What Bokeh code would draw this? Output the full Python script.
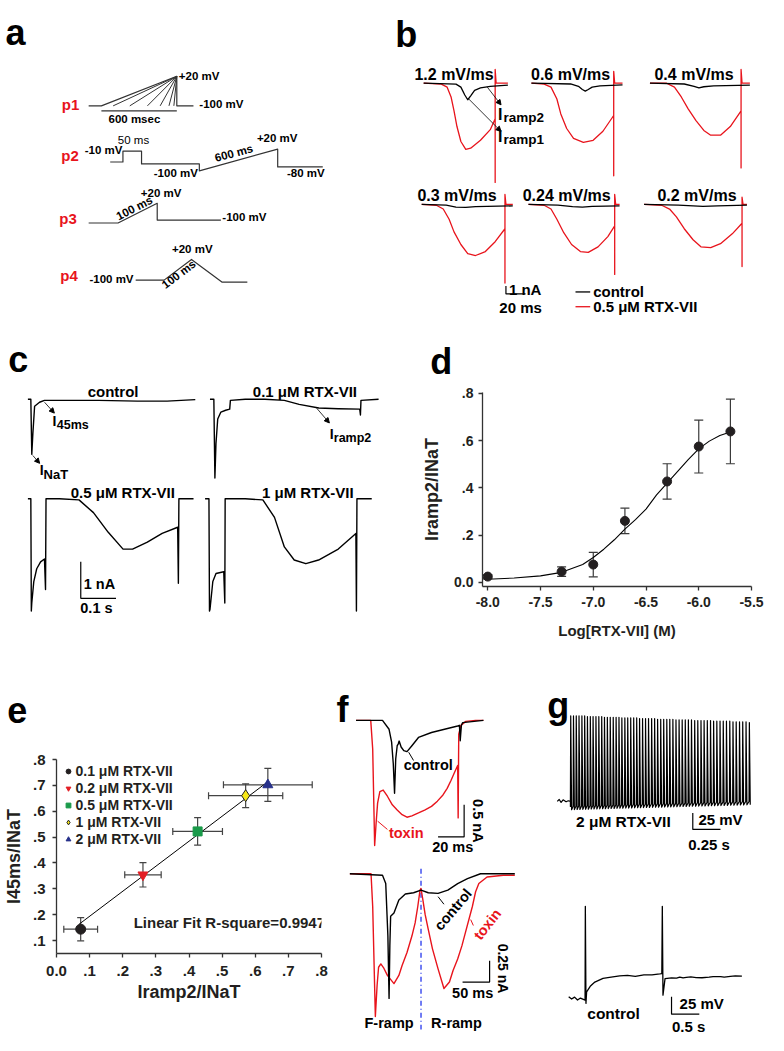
from bokeh.plotting import figure
from bokeh.models import (Range1d, Label, Arrow, NormalHead, Whisker, TeeHead, ColumnDataSource,
                          FixedTicker, CustomJSTickFormatter, Legend, LegendItem)
from bokeh.layouts import column, row
from bokeh.embed import file_html
from bokeh.resources import INLINE

FONT = "Liberation Sans"
RED = "#e8141c"
INK = "#231f20"

# ---------------- panel a: protocols (schematic units, relative to holding level) ----------------
a_p1_t = [0, 13, 90, 90, 107]
a_p1_v = [0, 0, 30, 0, 0]
a_p1_fan_starts = [25, 42, 60, 73, 82, 87]
a_p2_t = [0, 13, 13, 32, 32, 91, 91, 171, 171, 217]
a_p2_v = [0, 0, 11, 11, -2, -2, -9, 13, -5, -5]
a_p3_t = [0, 30, 70, 70, 135]
a_p3_v = [0, 0, 20, 3, 3]
a_p4_t = [0, 29, 57, 88, 114]
a_p4_v = [0, 0, 21, -2, -2]

# ---------------- panel b: ramp currents (ms, nA) ----------------
b_rates = ["1.2 mV/ms", "0.6 mV/ms", "0.4 mV/ms", "0.3 mV/ms", "0.24 mV/ms", "0.2 mV/ms"]
b_tox_t = [
    [0, 18, 24, 28, 31, 34, 38, 43, 48, 58, 68, 73, 73, 73, 74, 86],
    [0, 13, 20, 26, 30, 36, 43, 53, 63, 73, 84, 84, 84, 85, 93],
    [0, 17, 25, 32, 39, 47, 55, 62, 72, 82, 93, 93, 93, 94, 102],
    [0, 15, 22, 28, 33, 40, 47, 55, 65, 75, 85, 85, 85, 86, 93],
    [0, 16, 23, 29, 36, 44, 53, 61, 71, 81, 88, 88, 88, 89, 93],
    [0, 18, 26, 33, 41, 50, 58, 68, 78, 90, 100, 100, 100, 101, 105]]
b_tox_i = [
    [0, -0.12, -0.5, -1.75, -3.5, -5.5, -7.4, -8.4, -8.25, -7.25, -5.9, -4.5, -12.6, 1.75, 0, 0],
    [0, -0.12, -0.5, -2, -3.9, -5.75, -7, -7.5, -7.25, -6.1, -4.1, -11.75, 1.5, 0, 0],
    [0, 0, -0.5, -1.75, -3.25, -4.75, -6, -6.6, -6.6, -5.5, -3.5, -10.75, 1.75, 0, 0],
    [0, -0.12, -0.6, -1.9, -3.5, -5.1, -6.25, -6.5, -6, -4.75, -3.1, -10, 1.25, 0, 0],
    [0, -0.12, -0.6, -1.9, -3.6, -5.1, -6, -6.1, -5.4, -4.1, -2.75, -8.9, 1.25, 0, 0],
    [0, -0.12, -0.6, -1.6, -3.1, -4.5, -5.4, -5.5, -5, -3.75, -2.4, -7.9, 0.9, 0, 0]]
b_ctl_t = [
    [0, 33, 38, 42, 45, 48, 52, 58, 68, 86],
    [0, 40, 48, 52, 55, 58, 62, 70, 93],
    [0, 35, 45, 50, 55, 65, 102],
    [0, 25, 35, 45, 55, 93],
    [0, 30, 45, 55, 65, 93],
    [0, 35, 50, 60, 75, 105]]
b_ctl_i = [
    [0, -0.12, -0.5, -1.5, -2.1, -1.6, -0.9, -0.6, -0.4, -0.25],
    [0, -0.1, -0.4, -0.8, -1.0, -0.8, -0.5, -0.35, -0.2],
    [0, -0.1, -0.4, -0.6, -0.45, -0.35, -0.25],
    [0, -0.1, -0.35, -0.4, -0.3, -0.2],
    [0, -0.1, -0.3, -0.35, -0.25, -0.2],
    [0, -0.1, -0.2, -0.25, -0.2, -0.1]]

# ---------------- panel c: currents (ms, nA) ----------------
c_titles = ["control", "0.1 μM RTX-VII", "0.5 μM RTX-VII", "1 μM RTX-VII"]
c_ctl_t = [0, 8.3, 11, 14, 19, 33, 47, 89, 200, 311, 395, 475]
c_ctl_i = [0, 0, -1.51, -0.95, -0.19, -0.08, -0.03, -0.03, -0.03, -0.05, -0.05, -0.01]
c_01_t = [0, 11, 14, 17, 22, 31, 44.5, 56, 58, 100, 156, 211, 253, 309, 364, 425, 427, 428.5, 478.5]
c_01_i = [0, 0, -2.16, -1.22, -0.54, -0.35, -0.30, -0.27, -0.03, 0, 0, -0.03, -0.14, -0.24, -0.26,
          -0.27, -0.43, -0.03, 0]
c_05_t = [0, 8.3, 9.7, 11, 16.7, 25, 36, 47, 50, 51.4, 89, 145, 186, 228, 270, 297, 339, 381, 425,
          427, 428.5, 470]
c_05_i = [0, 0, -3.08, -2.86, -2.27, -1.92, -1.73, -1.65, -2.49, 0, 0, -0.03, -0.38, -0.92, -1.38,
          -1.38, -1.19, -0.95, -0.78, -2.32, 0, 0]
c_1_t = [0, 11, 12.5, 14, 22, 31, 53, 56, 57, 114, 164, 197, 225, 253, 286, 322, 378, 428, 429.5,
         431, 473]
c_1_i = [0, 0, -3.08, -3.03, -2.27, -2.05, -2.0, -2.86, 0, 0, -0.03, -0.51, -1.32, -1.68, -1.78,
         -1.68, -1.38, -0.95, -3.08, 0, 0]

# ---------------- panel d: dose-response ----------------
d_logc = [-8.0, -7.3, -7.0, -6.7, -6.3, -6.0, -5.7]
d_ratio = [0.024, 0.045, 0.075, 0.26, 0.427, 0.575, 0.639]
d_sem = [0.008, 0.02, 0.052, 0.054, 0.075, 0.112, 0.137]
d_fit_logc = [-8.04, -8.0, -7.75, -7.5, -7.3, -7.1, -7.0, -6.9, -6.8, -6.7, -6.6, -6.5, -6.4,
              -6.3, -6.2, -6.1, -6.0, -5.9, -5.8, -5.7]
d_fit_ratio = [0.012, 0.013, 0.018, 0.027, 0.042, 0.075, 0.105, 0.14, 0.18, 0.225, 0.265, 0.31,
               0.37, 0.42, 0.47, 0.52, 0.565, 0.598, 0.622, 0.637]
d_xticks = [-8.0, -7.5, -7.0, -6.5, -6.0, -5.5]
d_yticks = [0.0, 0.2, 0.4, 0.6, 0.8]

# ---------------- panel e: correlation ----------------
e_labels = ["0.1 μM RTX-VII", "0.2 μM RTX-VII", "0.5 μM RTX-VII", "1 μM RTX-VII", "2 μM RTX-VII"]
e_ramp = [0.073, 0.261, 0.426, 0.571, 0.638]
e_ramp_err = [0.051, 0.055, 0.075, 0.112, 0.134]
e_i45 = [0.144, 0.354, 0.522, 0.660, 0.702]
e_i45_err = [0.045, 0.047, 0.053, 0.046, 0.064]
e_markers = ["circle", "inverted_triangle", "square", "diamond", "triangle"]
e_colors = ["#231f20", "#e31e24", "#1a9a4a", "#f7e816", "#27318b"]
e_sizes = [10, 10, 9, 12, 10]
e_fit_x = [0.068, 0.641]
e_fit_y = [0.163, 0.717]
e_xticks = [0.0, 0.1, 0.2, 0.3, 0.4, 0.5, 0.6, 0.7, 0.8]
e_yticks = [0.1, 0.2, 0.3, 0.4, 0.5, 0.6, 0.7, 0.8]

# ---------------- panel f: F-ramp / R-ramp (display units) ----------------
f_top_tox_t = [0, 15, 17, 19, 20.5, 22, 24.3, 27.7, 32, 37, 42, 47, 52, 57, 63.7, 70, 77, 83, 88.7,
               93, 97, 100, 103.7, 104.2, 104.8, 107, 112, 122, 130]
f_top_tox_v = [0, 0, -29, -127, -104, -84, -72.3, -70.7, -77, -85.7, -91, -95.7, -98.3, -97, -94,
               -91, -87.3, -82, -75.7, -69, -60.7, -54, -45.7, -99, -14, -5, -1, 0, 0]
f_top_ctl_t = [0, 27, 33.7, 36.3, 38, 39.3, 40.5, 42, 43, 44, 46, 48.7, 52, 57, 63.7, 77, 90.3,
               103.7, 105.5, 106.3, 107.5, 108.7, 130]
f_top_ctl_v = [0, 0, -9, -22, -44, -74, -39, -25.7, -24, -21, -27, -30.7, -31.7, -25.7, -17.3,
               -12.3, -9, -5.7, -5, -20.7, -5, -2.3, 0]
f_bot_tox_t = [0, 21.6, 23.3, 26, 27.8, 29.3, 31.6, 34.3, 38.3, 45, 50, 53.3, 58.3, 63.3, 66.6,
               69.3, 71.6, 72.6, 74.3, 76.8, 80, 84.3, 90, 96, 101.6, 105.3, 110, 114.3, 118.3,
               125, 128.3, 131.6, 140, 156.6, 168.3]
f_bot_tox_v = [0, 0, -33.3, -145, -113.3, -95, -91.6, -95.3, -103.3, -111.6, -103.3, -93.3, -80,
               -63.3, -50, -33.3, -16.6, -15, -25.3, -41.3, -56.6, -76.3, -96.6, -116.6, -110,
               -98.3, -86.6, -73.3, -58.3, -33.3, -18.3, -10, -3.3, -1.6, -1.6]
f_bot_ctl_t = [0, 33.3, 36.6, 38.8, 40, 40.8, 41.6, 45, 50, 56.6, 65, 72.6, 80, 90, 100, 110, 120,
               133.3, 168.3]
f_bot_ctl_v = [0, -1.6, -10, -63.3, -126.6, -73.3, -43.3, -40, -26.6, -20.6, -19.3, -16.6, -19.3,
               -20, -16.6, -10, -5, 0, 0]

# ---------------- panel g: firing (ms, mV) ----------------
g_pre_t = [0, 18, 35, 53, 80, 100, 119]
g_pre_v = [0, 3, -1.5, 2.5, -0.5, 1, 0]
g_spike_t = [119, 144, 169, 194, 220, 245, 270, 296, 321, 347, 373, 399, 424, 450, 476, 503, 529,
             555, 581, 608, 634, 661, 688, 715, 741, 768, 795, 822, 850, 877, 904, 932, 959, 987,
             1014, 1042, 1070, 1098, 1126, 1154, 1182, 1210, 1239, 1267, 1296, 1324, 1353, 1382,
             1410, 1439, 1468, 1497, 1526, 1556, 1585, 1614, 1644, 1673, 1703, 1733]
g_peak = [130] * 6 + [129] * 6 + [128] * 6 + [127] * 6 + [126] * 6 + [125] * 6 + [124] * 6 + \
         [123] * 6 + [122] * 6 + [121] * 5 + [120]
g_trough = [-12.5, -12.4, -12.2, -12.1, -12.0, -11.9, -11.7, -11.6, -11.5, -11.3,
            -11.2, -11.1, -11.0, -10.8, -10.7, -10.6, -10.5, -10.3, -10.2, -10.1,
            -10.0, -9.8, -9.7, -9.6, -9.4, -9.3, -9.2, -9.1, -8.9, -8.8,
            -8.7, -8.6, -8.4, -8.3, -8.2, -8.1, -7.9, -7.8, -7.7, -7.5,
            -7.4, -7.3, -7.2, -7.0, -6.9, -6.8, -6.7, -6.5, -6.4, -6.3,
            -6.2, -6.0, -5.9, -5.8, -5.6, -5.5, -5.4, -5.3, -5.1, -5.0]
g_ctl_t = [0, 53, 106, 159, 212, 295, 300, 311, 323, 388, 471, 618, 764, 918, 1059, 1200, 1354,
           1500, 1641, 1677, 1686, 1698, 1735, 1853, 1942, 2000, 2060, 2118, 2200, 2295, 2400,
           2529, 2600, 2736, 2800, 2912, 3000, 3119]
g_ctl_v = [0.4, -2.8, 0, -4.3, -1.4, -4.3, 131, -9, 7.5, 15.6, 21.7, 27, 28.8, 30.5, 31.2, 29.8,
           32.2, 32, 33.4, 34, 131, 2.8, 26.6, 27.7, 27.4, 28.9, 27.6, 28.4, 29.1, 28.1, 27.9,
           28.8, 29.6, 29.4, 28.7, 29.8, 30.5, 30.2]


# =============================== helpers ===============================
def blank(x0, x1, y0, y1, w, h):
    p = figure(width=w, height=h, x_range=Range1d(x0, x1), y_range=Range1d(y1, y0),
               output_backend="svg", toolbar_location=None, title=None,
               x_axis_type=None, y_axis_type=None, min_border=0)
    p.outline_line_color = None
    p.background_fill_color = "white"
    p.border_fill_color = "white"
    p.frame_align = False
    return p


def lab(p, x, y, s, size=14, color="black", bold=True, align="center", base="middle", angle=0.0):
    p.add_layout(Label(x=x, y=y, text=s, text_font=FONT, text_font_size=f"{size}px",
                       text_font_style="bold" if bold else "normal", text_color=color,
                       text_align=align, text_baseline=base, angle=angle, angle_units="deg"))


def isub(p, x, y, main, sub, s1, s2, dx, dy, color="black"):
    lab(p, x, y, main, s1, color, align="left", base="alphabetic")
    lab(p, x + dx, y + dy, sub, s2, color, align="left", base="alphabetic")


def put(p, ox, oy, t, v, sx=1.0, sy=1.0, color="black", width=1.4):
    xs = [ox + sx * a for a in t]
    ys = [oy - sy * b for b in v]
    return p.line(xs, ys, line_color=color, line_width=width, line_join="round")


def seg(p, xs, ys, color="black", width=1.2, dash="solid"):
    p.line(xs, ys, line_color=color, line_width=width, line_dash=dash)


def arrow(p, x0, y0, x1, y1):
    p.add_layout(Arrow(end=NormalHead(size=5, line_color="black", fill_color="black"),
                       x_start=x0, y_start=y0, x_end=x1, y_end=y1, line_width=0.8))


def style_axis(ax, size):
    ax.axis_line_color = "#333333"
    ax.axis_line_width = 1.3
    ax.major_tick_line_color = "#333333"
    ax.major_tick_line_width = 1.3
    ax.major_tick_out = 4
    ax.major_tick_in = 0
    ax.minor_tick_out = 0
    ax.minor_tick_in = 0
    ax.major_label_text_font = FONT
    ax.major_label_text_font_style = "bold"
    ax.major_label_text_font_size = f"{size}px"
    ax.major_label_text_color = INK
    ax.axis_label_text_font = FONT
    ax.axis_label_text_font_style = "bold"
    ax.axis_label_text_color = INK


DOT_FMT = "return Math.abs(tick) < 1e-9 ? '0.0' : tick.toFixed(1).replace(/^0/, '');"

# =============================== panel a ===============================
pa = blank(0, 390, 0, 325, 382, 320)
lab(pa, 5, 33, "a", 36, align="left", base="alphabetic")
PCOL = "#333333"
ox, oy = 90, 107
put(pa, ox, oy, a_p1_t, a_p1_v, color=PCOL, width=1.2)
for s in a_p1_fan_starts:
    put(pa, ox, oy, [s, a_p1_t[2]], [0, a_p1_v[2]], color=PCOL, width=1.0)
put(pa, ox, oy, [a_p1_t[1], a_p1_t[2]], [-5, -5], color=PCOL, width=1.2)
lab(pa, 71.5, 106, "p1", 15, RED)
lab(pa, 182, 77, "+20 mV", 11.5, align="left")
lab(pa, 203, 105, "-100 mV", 11.5, align="left")
lab(pa, 136.7, 120, "600 msec", 11.5)

put(pa, 112, 164, a_p2_t, a_p2_v, color=PCOL, width=1.2)
lab(pa, 71, 157, "p2", 15, RED)
lab(pa, 105.3, 152, "-10 mV", 11.5)
lab(pa, 135.8, 141.7, "50 ms", 11.5, bold=False)
lab(pa, 179, 175, "-100 mV", 11.5)
lab(pa, 238.3, 155, "600 ms", 11.5, angle=15)
lab(pa, 282.5, 139.3, "+20 mV", 11.5)
lab(pa, 311.7, 175, "-80 mV", 11.5)

put(pa, 90, 226, a_p3_t, a_p3_v, color=PCOL, width=1.2)
lab(pa, 69, 221, "p3", 15, RED)
lab(pa, 164, 195, "+20 mV", 11.5)
lab(pa, 136.7, 210.7, "100 ms", 11.5, angle=27)
lab(pa, 249, 220, "-100 mV", 11.5)

put(pa, 138, 284, a_p4_t, a_p4_v, color=PCOL, width=1.2)
lab(pa, 70, 279, "p4", 15, RED)
lab(pa, 195.8, 252.3, "+20 mV", 11.5)
lab(pa, 113.3, 283.3, "-100 mV", 11.5)
lab(pa, 182, 278, "100 ms", 11.5, angle=37)

# =============================== panel b ===============================
pb = blank(390, 784, 0, 325, 386, 320)
lab(pb, 403, 35, "b", 36, align="left", base="alphabetic")
B_ORIG = [(432, 84), (542, 84), (663, 84), (430, 207), (539, 207), (657, 207)]
B_TITLE = [(463, 75), (582, 75), (708, 75), (466, 198), (578, 198), (711, 198)]
BSX, BSY = 1.0, 8.0   # px per ms, px per nA
for k in range(6):
    ox, oy = B_ORIG[k]
    put(pb, ox, oy, b_tox_t[k], b_tox_i[k], BSX, BSY, color=RED, width=1.3)
    put(pb, ox, oy, b_ctl_t[k], b_ctl_i[k], BSX, BSY, color="black", width=1.3)
    lab(pb, B_TITLE[k][0], B_TITLE[k][1], b_rates[k], 16)
arrow(pb, 497, 88, 511, 106)
arrow(pb, 478, 100, 511, 133)
isub(pb, 508, 115.5, "I", "ramp2", 16, 13.5, 5.5, 3)
isub(pb, 508, 138, "I", "ramp1", 16, 13.5, 5.5, 3.5)
seg(pb, [516, 516, 516 + 20 * BSX], [298 - 1 * BSY, 298, 298])
lab(pb, 519, 293.5, "1 nA", 15, align="left")
lab(pb, 531, 312, "20 ms", 15)
seg(pb, [587, 602], [296, 296], "black", 1.3)
seg(pb, [587, 602], [311, 311], RED, 1.3)
lab(pb, 605, 296, "control", 15, align="left")
lab(pb, 605, 311, "0.5 μM RTX-VII", 15, align="left")

# =============================== panel c ===============================
pc = blank(0, 425, 325, 660, 416, 330)
lab(pc, 8, 365, "c", 36, align="left", base="alphabetic")
CSX, CSY = 0.36, 37.0  # px per ms, px per nA
put(pc, 28, 405, c_ctl_t, c_ctl_i, CSX, CSY, width=1.4)
put(pc, 214, 405, c_01_t, c_01_i, CSX, CSY, width=1.4)
put(pc, 28, 506, c_05_t, c_05_i, CSX, CSY, width=1.4)
put(pc, 209, 506, c_1_t, c_1_i, CSX, CSY, width=1.4)
lab(pc, 115, 397, c_titles[0], 15)
lab(pc, 311, 397, c_titles[1], 15)
lab(pc, 125, 500, c_titles[2], 15)
lab(pc, 314, 500, c_titles[3], 15)
arrow(pc, 45, 408, 55, 419)
arrow(pc, 33, 462, 40, 470)
arrow(pc, 323, 414, 336, 429)
isub(pc, 53, 427, "I", "45ms", 14, 12.5, 4.5, 4)
isub(pc, 40, 477, "I", "NaT", 14, 13, 4, 4.5)
isub(pc, 336.5, 440, "I", "ramp2", 14, 12.5, 4, 4)
seg(pc, [82, 82, 82 + 100 * CSX], [607 - 1 * CSY, 607, 607])
lab(pc, 85, 592, "1 nA", 14.5, align="left")
lab(pc, 98, 617, "0.1 s", 14.5)

# =============================== panel d ===============================
pdt = blank(425, 784, 325, 392, 352, 66)
lab(pdt, 439, 367, "d", 36, align="left", base="alphabetic")

pd = figure(width=352, height=264, x_range=Range1d(-8.05, -5.5), y_range=Range1d(-0.018, 0.804),
            output_backend="svg", toolbar_location=None, title=None,
            min_border_left=66, min_border_right=17, min_border_top=6, min_border_bottom=64)
pd.outline_line_color = None
pd.grid.visible = False
pd.frame_align = False
style_axis(pd.xaxis[0], 14)
style_axis(pd.yaxis[0], 14)
pd.xaxis.ticker = FixedTicker(ticks=d_xticks)
pd.xaxis.formatter = CustomJSTickFormatter(code="return tick.toFixed(1);")
pd.yaxis.ticker = FixedTicker(ticks=d_yticks)
pd.yaxis.formatter = CustomJSTickFormatter(code=DOT_FMT)
pd.xaxis.major_label_standoff = 6
pd.yaxis.major_label_standoff = 5
pd.xaxis.axis_label = "Log[RTX-VII] (M)"
pd.xaxis.axis_label_text_font_size = "15px"
pd.xaxis.axis_label_standoff = 12
pd.yaxis.axis_label = "Iramp2/INaT"
pd.yaxis.axis_label_text_font_size = "18px"
pd.yaxis.axis_label_standoff = 9

dsrc = ColumnDataSource(dict(x=d_logc, y=d_ratio,
                             lo=[a - b for a, b in zip(d_ratio, d_sem)],
                             hi=[a + b for a, b in zip(d_ratio, d_sem)]))
pd.add_layout(Whisker(source=dsrc, base="x", lower="lo", upper="hi", dimension="height",
                      line_color="#3a3a3a", line_width=1.2, level="underlay",
                      upper_head=TeeHead(size=9, line_color="#3a3a3a", line_width=1.2),
                      lower_head=TeeHead(size=9, line_color="#3a3a3a", line_width=1.2)))
pd.line(d_fit_logc, d_fit_ratio, line_color="black", line_width=1.1)
pd.scatter("x", "y", source=dsrc, marker="circle", size=9, fill_color=INK, line_color=INK)

# =============================== panel e ===============================
pet = blank(0, 340, 660, 755, 333, 94)
lab(pet, 7, 720, "e", 36, align="left", base="alphabetic")

pe = figure(width=333, height=291, x_range=Range1d(0.0, 0.8), y_range=Range1d(0.05, 0.8),
            output_backend="svg", toolbar_location=None, title=None,
            min_border_left=52, min_border_right=12, min_border_top=15, min_border_bottom=82)
pe.outline_line_color = None
pe.grid.visible = False
pe.frame_align = False
style_axis(pe.xaxis[0], 15)
style_axis(pe.yaxis[0], 15)
pe.xaxis.ticker = FixedTicker(ticks=e_xticks)
pe.yaxis.ticker = FixedTicker(ticks=e_yticks)
pe.xaxis.formatter = CustomJSTickFormatter(code=DOT_FMT)
pe.yaxis.formatter = CustomJSTickFormatter(code="return tick.toFixed(1).replace(/^0/, '');")
pe.xaxis.major_label_standoff = 8
pe.yaxis.major_label_standoff = 7
pe.xaxis.axis_label = "Iramp2/INaT"
pe.xaxis.axis_label_text_font_size = "18px"
pe.xaxis.axis_label_standoff = 3
pe.yaxis.axis_label = "I45ms/INaT"
pe.yaxis.axis_label_text_font_size = "18px"
pe.yaxis.axis_label_standoff = 6

esrc = ColumnDataSource(dict(x=e_ramp, y=e_i45,
                             xl=[a - b for a, b in zip(e_ramp, e_ramp_err)],
                             xu=[a + b for a, b in zip(e_ramp, e_ramp_err)],
                             yl=[a - b for a, b in zip(e_i45, e_i45_err)],
                             yu=[a + b for a, b in zip(e_i45, e_i45_err)]))
for dim, base, lo, hi in [("height", "x", "yl", "yu"), ("width", "y", "xl", "xu")]:
    pe.add_layout(Whisker(source=esrc, base=base, lower=lo, upper=hi, dimension=dim,
                          line_color="#444444", line_width=1.2, level="underlay",
                          upper_head=TeeHead(size=7, line_color="#444444", line_width=1.2),
                          lower_head=TeeHead(size=7, line_color="#444444", line_width=1.2)))
pe.line(e_fit_x, e_fit_y, line_color="black", line_width=1.0)
items = []
for k in range(len(e_ramp)):
    r = pe.scatter([e_ramp[k]], [e_i45[k]], marker=e_markers[k], size=e_sizes[k],
                   fill_color=e_colors[k], line_color="#222222" if k == 3 else e_colors[k],
                   line_width=1)
    items.append(LegendItem(label=e_labels[k], renderers=[r]))
leg = Legend(items=items, location=(5.5, 105.7), padding=0, margin=0, spacing=0, label_height=17,
             glyph_width=12, glyph_height=12, label_standoff=2, border_line_color=None,
             background_fill_alpha=0, label_text_font=FONT, label_text_font_size="14px",
             label_text_font_style="bold", label_text_color=INK)
pe.add_layout(leg)
lab(pe, 0.233, 0.17, "Linear Fit R-square=0.9947", 15, INK, align="left")

# =============================== panel f ===============================
pf = blank(340, 540, 660, 1051, 196, 385)
lab(pf, 343, 720, "f", 36, align="left", base="alphabetic")
put(pf, 363, 731, f_top_tox_t, f_top_tox_v, color=RED, width=1.4)
put(pf, 363, 731, f_top_ctl_t, f_top_ctl_v, color="black", width=1.4)
seg(pf, [416.7, 421.7], [763.3, 771.7], "black", 1.0)
seg(pf, [385, 395], [833.3, 841.7], RED, 1.0)
lab(pf, 436.7, 776.7, "control", 14.5)
lab(pf, 414.2, 845, "toxin", 14.5, RED)
seg(pf, [446.7, 473.3, 473.3], [849.3, 849.3, 816.7])
lab(pf, 487.5, 833, "0.5 nA", 14.5, angle=-90)
lab(pf, 461.7, 860, "20 ms", 14.5)

seg(pf, [429.3, 429.3], [881.7, 1045], "#3344ee", 1.4, "5 3 1 3")
put(pf, 356.7, 886.7, f_bot_tox_t, f_bot_tox_v, color=RED, width=1.4)
put(pf, 356.7, 886.7, f_bot_ctl_t, f_bot_ctl_v, color="black", width=1.4)
seg(pf, [446.7, 452.7], [910, 917.7], "black", 1.0)
seg(pf, [480, 482.7], [933.3, 939.3], RED, 1.0)
lab(pf, 462, 923, "control", 14.5, angle=50)
lab(pf, 497, 938, "toxin", 14.5, RED, angle=52)
seg(pf, [471.7, 499.3, 499.3], [996.7, 996.7, 975])
lab(pf, 513, 983, "0.25 nA", 14, angle=-90)
lab(pf, 482, 1008.3, "50 ms", 14.5)
lab(pf, 396.7, 1038.3, "F-ramp", 14.5)
lab(pf, 465.5, 1038.3, "R-ramp", 14.5)

# =============================== panel g ===============================
pg = blank(540, 784, 660, 1051, 239, 385)
lab(pg, 558, 716, "g", 36, align="left", base="alphabetic")
GSX, GSY = 0.113, 0.668     # px per ms, px per mV (top)
gx, gy = list(g_pre_t), list(g_pre_v)
for t, pk, tr in zip(g_spike_t, g_peak, g_trough):
    gx += [t, t + 3, t + 11]
    gy += [tr + 5, pk, tr]
put(pg, 568.3, 813.3, gx, gy, GSX, GSY, width=1.2)
lab(pg, 635.8, 833.3, "2 μM RTX-VII", 15.5)
seg(pg, [706.7, 706.7, 706.7 + 250 * GSX], [841.7 - 25 * GSY, 841.7, 841.7])
lab(pg, 735, 831.7, "25 mV", 15)
lab(pg, 723.3, 857.3, "0.25 s", 15)

GSX2, GSY2 = 0.0567, 0.704
put(pg, 580, 1012, g_ctl_t, g_ctl_v, GSX2, GSY2, width=1.3)
lab(pg, 625.8, 1028.3, "control", 15.5)
seg(pg, [685, 685, 685 + 500 * GSX2], [1029.3 - 25 * GSY2, 1029.3, 1029.3])
lab(pg, 715.8, 1018.3, "25 mV", 15)
lab(pg, 702.5, 1041.7, "0.5 s", 15)

layout = column(row(pa, pb), row(pc, column(pdt, pd)), row(column(pet, pe), pf, pg))
open("out.html", "w").write(file_html(layout, INLINE, title="RTX-VII figure"))
